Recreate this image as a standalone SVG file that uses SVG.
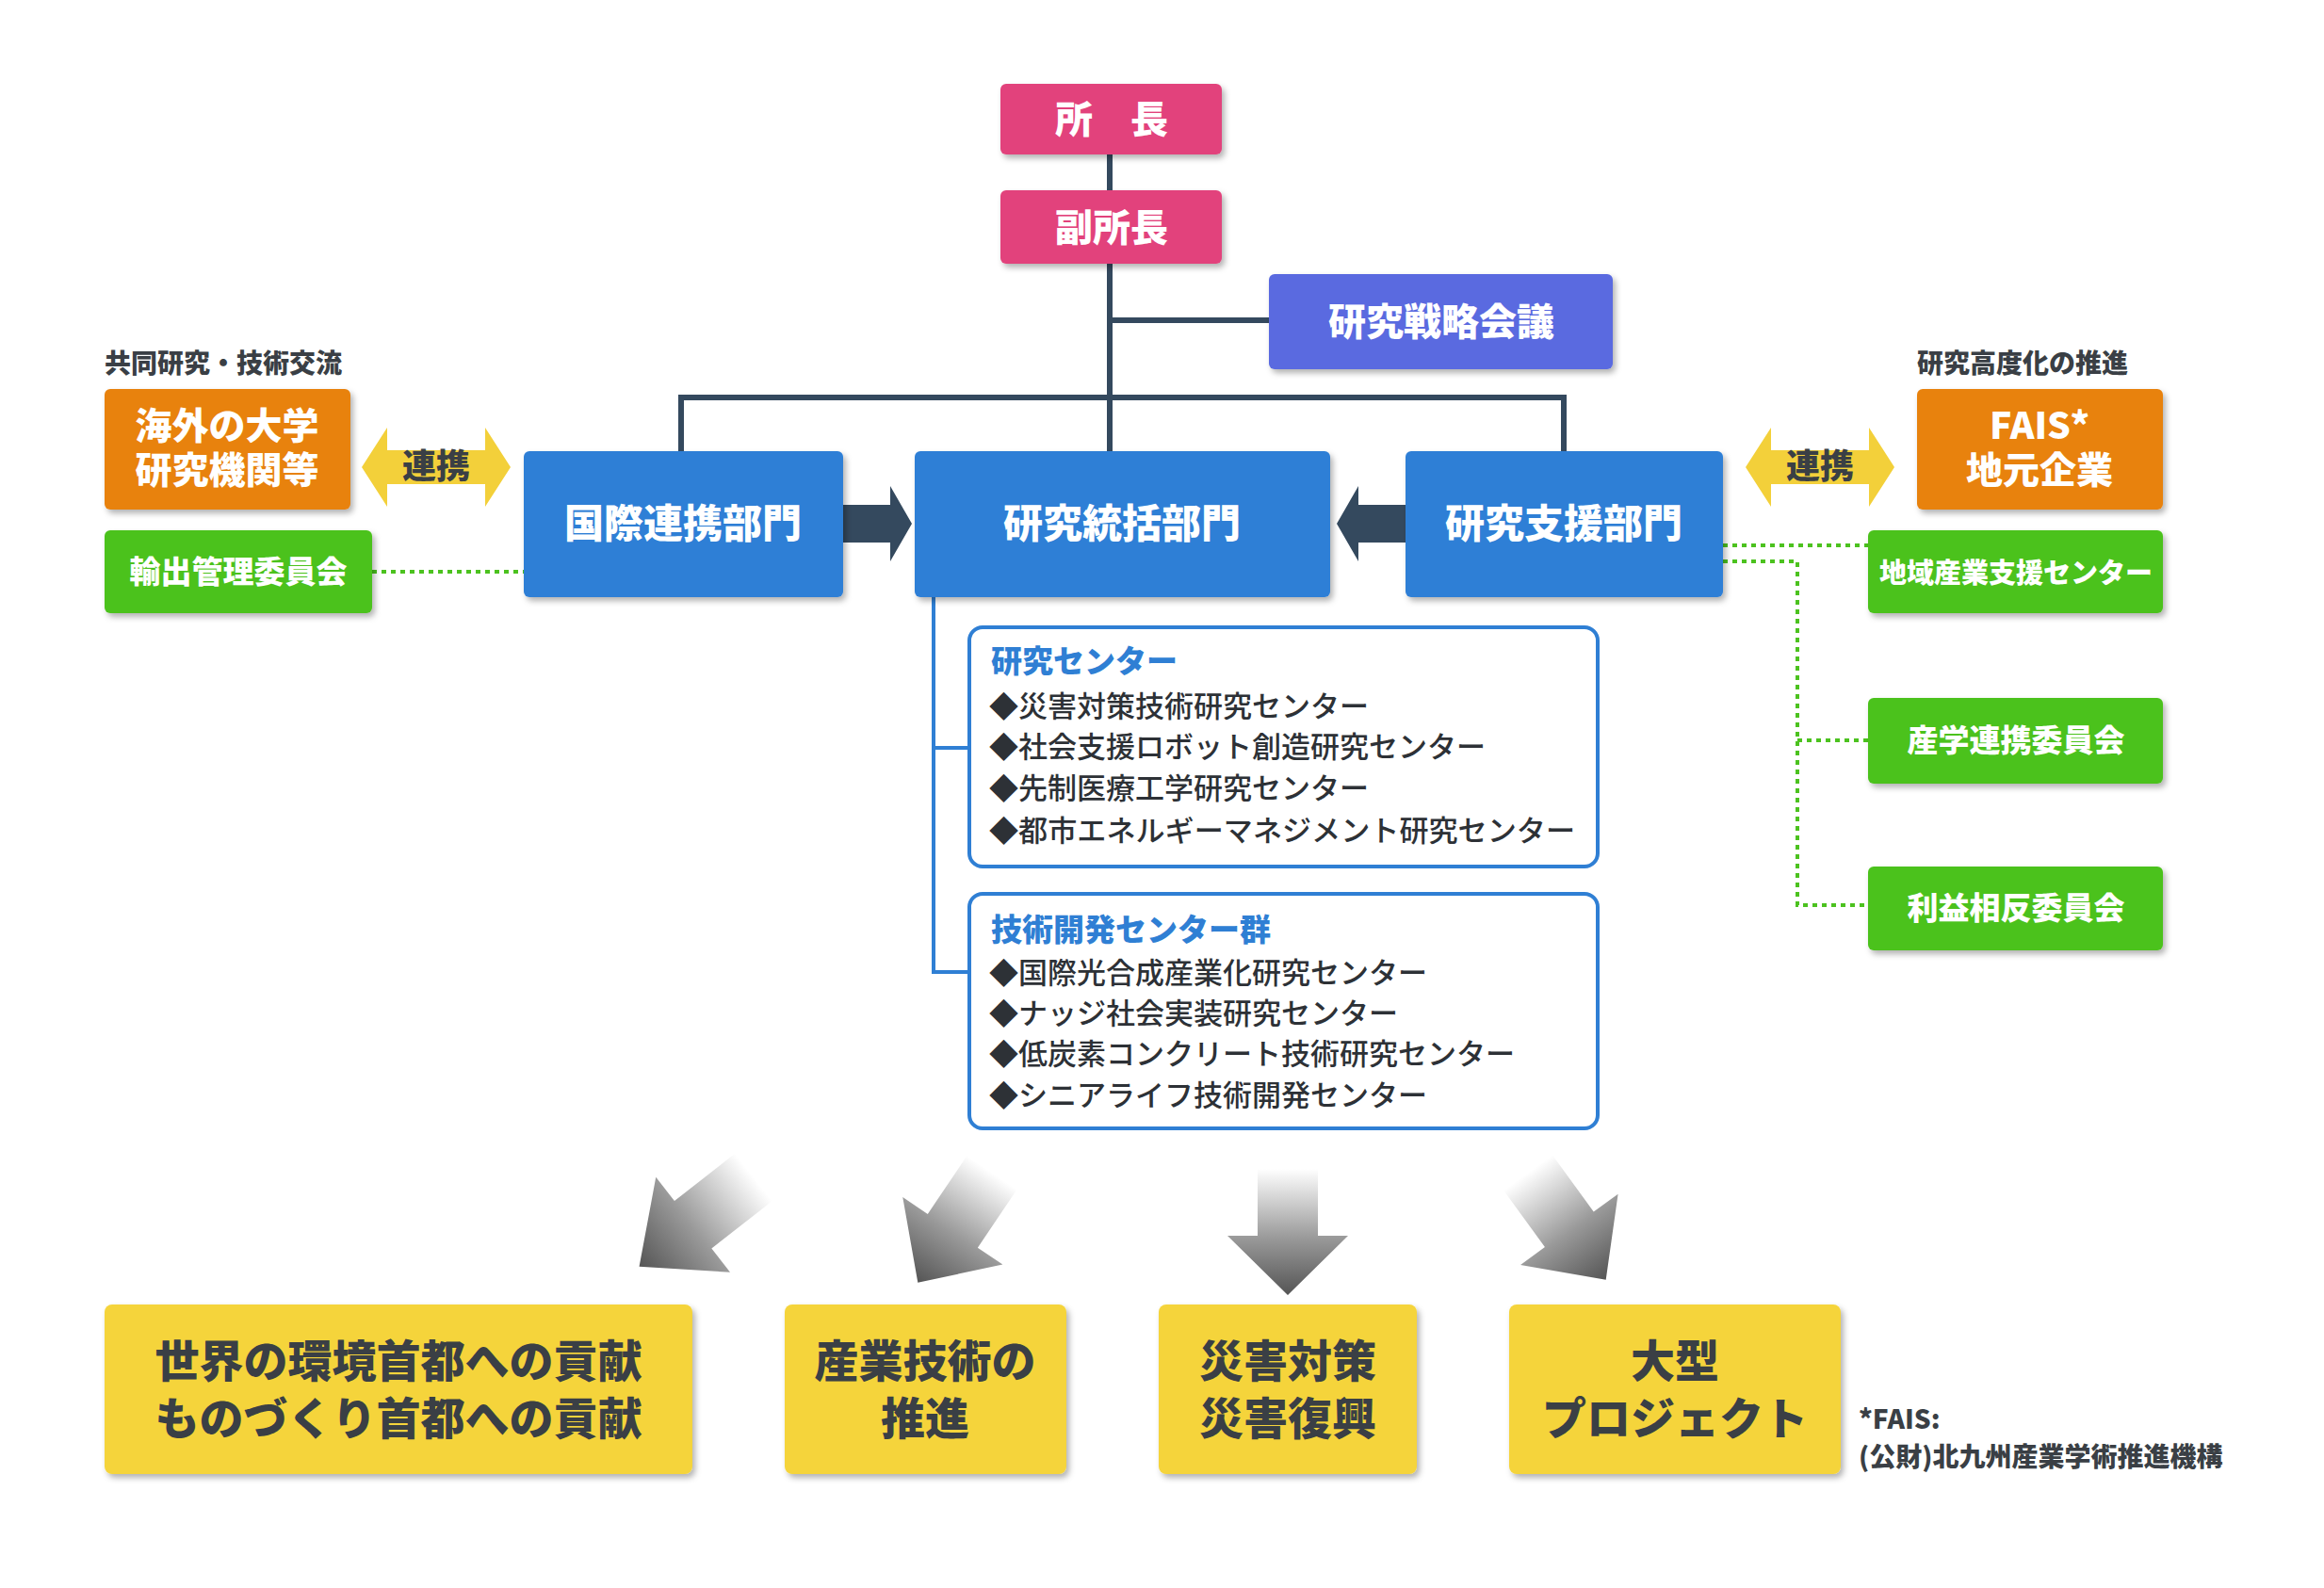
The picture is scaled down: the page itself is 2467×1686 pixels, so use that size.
<svg xmlns="http://www.w3.org/2000/svg" width="2467" height="1686" viewBox="0 0 2467 1686">
<style>
text{font-family:"Noto Sans CJK JP","Noto Sans CJK SC",sans-serif;font-weight:900}
.w{fill:#fff;text-anchor:middle}
.d{fill:#3a3f45;text-anchor:middle}
.it{fill:#2d3136;font-size:31px;font-weight:500}
.tt{fill:#2f7fd4;font-size:33px}
.sm{fill:#3a3f45;font-size:28px}
.ln{stroke:#34495e;stroke-width:6;fill:none}
.bl{stroke:#2f7fd4;stroke-width:4;fill:none}
.gd{stroke:#4cc21f;stroke-width:4;stroke-dasharray:5 5;fill:none}
</style>
<defs>
<filter id="sh" x="-10%" y="-10%" width="125%" height="130%"><feDropShadow dx="3" dy="4" stdDeviation="3" flood-color="#000" flood-opacity="0.3"/></filter>
<linearGradient id="ag" x1="0" y1="0" x2="0" y2="1"><stop offset="0" stop-color="#fff"/><stop offset="0.55" stop-color="#999"/><stop offset="1" stop-color="#555"/></linearGradient>
<path id="ga" d="M-32,0 H32 V71 H64 L0,134 L-64,71 H-32 Z" fill="url(#ag)"/>
<path id="ya" d="M-79,0 L-52,-42 V-18 H52 V-42 L79,0 L52,42 V18 H-52 V42 Z" fill="#f3d03a"/>
</defs>
<rect width="2467" height="1686" fill="#fff"/>
<g id="connectors">
<path class="ln" d="M1178,164 V479 M1178,340 H1347 M723,479 V422 H1660 V479"/>
<path d="M895,536 H945 V516 L968,556 L945,596 V576 H895 Z" fill="#34495e"/>
<path d="M1492,536 H1442 V516 L1419,556 L1442,596 V576 H1492 Z" fill="#34495e"/>
<path class="gd" d="M395,607 H556 M1829,579 H1983 M1829,596 H1908 V961 H1983 M1908,786 H1983"/>
<path class="bl" d="M991,634 V1032 H1029 M991,794 H1029"/>
<use href="#ya" x="463" y="496"/>
<use href="#ya" x="1932" y="496"/>
<use href="#ga" transform="translate(800,1250) rotate(52) scale(1,1.15)"/>
<use href="#ga" transform="translate(1053,1245) rotate(34) scale(1,1.05)"/>
<use href="#ga" transform="translate(1367,1241)"/>
<use href="#ga" transform="translate(1622,1245) rotate(-36) scale(1,1.05)"/>
</g>
<text x="463" y="508" class="d" font-size="36">連携</text>
<text x="1932" y="508" class="d" font-size="36">連携</text>
<g id="shocho"><rect x="1062" y="89" width="235" height="75" rx="6" fill="#e2437b" filter="url(#sh)"/><text x="1180" y="141" class="w" font-size="40">所　長</text></g>
<g id="fukushocho"><rect x="1062" y="202" width="235" height="78" rx="6" fill="#e2437b" filter="url(#sh)"/><text x="1180" y="256" class="w" font-size="40">副所長</text></g>
<g id="senryaku"><rect x="1347" y="291" width="365" height="101" rx="6" fill="#5a6be0" filter="url(#sh)"/><text x="1530" y="356" class="w" font-size="40">研究戦略会議</text></g>
<g id="kokusai"><rect x="556" y="479" width="339" height="155" rx="6" fill="#2e7fd6" filter="url(#sh)"/><text x="725" y="571" class="w" font-size="42">国際連携部門</text></g>
<g id="tokatsu"><rect x="971" y="479" width="441" height="155" rx="6" fill="#2e7fd6" filter="url(#sh)"/><text x="1191" y="571" class="w" font-size="42">研究統括部門</text></g>
<g id="shien"><rect x="1492" y="479" width="337" height="155" rx="6" fill="#2e7fd6" filter="url(#sh)"/><text x="1660" y="571" class="w" font-size="42">研究支援部門</text></g>
<g id="kaigai"><text x="111" y="396" class="sm">共同研究・技術交流</text><rect x="111" y="413" width="261" height="128" rx="6" fill="#e8820e" filter="url(#sh)"/><text x="241" y="466" class="w" font-size="39">海外の大学</text><text x="241" y="513" class="w" font-size="39">研究機関等</text></g>
<g id="yushutsu"><rect x="111" y="563" width="284" height="88" rx="6" fill="#4cc21f" filter="url(#sh)"/><text x="253" y="619" class="w" font-size="33">輸出管理委員会</text></g>
<g id="fais"><text x="2035" y="396" class="sm">研究高度化の推進</text><rect x="2035" y="413" width="261" height="128" rx="6" fill="#e8820e" filter="url(#sh)"/><text x="2165" y="466" class="w" font-size="39">FAIS*</text><text x="2165" y="513" class="w" font-size="39">地元企業</text></g>
<g id="chiiki"><rect x="1983" y="563" width="313" height="88" rx="6" fill="#4cc21f" filter="url(#sh)"/><text x="2140" y="619" class="w" font-size="29">地域産業支援センター</text></g>
<g id="sangaku"><rect x="1983" y="741" width="313" height="91" rx="6" fill="#4cc21f" filter="url(#sh)"/><text x="2140" y="798" class="w" font-size="33">産学連携委員会</text></g>
<g id="rieki"><rect x="1983" y="920" width="313" height="89" rx="6" fill="#4cc21f" filter="url(#sh)"/><text x="2140" y="976" class="w" font-size="33">利益相反委員会</text></g>
<g id="kenkyu-center"><rect x="1029" y="666" width="667" height="254" rx="14" fill="#fff" stroke="#2f7fd4" stroke-width="4"/>
<text x="1052" y="714" class="tt">研究センター</text>
<text x="1050" y="761" class="it">◆災害対策技術研究センター</text>
<text x="1050" y="804" class="it">◆社会支援ロボット創造研究センター</text>
<text x="1050" y="848" class="it">◆先制医療工学研究センター</text>
<text x="1050" y="893" class="it" textLength="622" lengthAdjust="spacingAndGlyphs">◆都市エネルギーマネジメント研究センター</text></g>
<g id="gijutsu-center"><rect x="1029" y="949" width="667" height="249" rx="14" fill="#fff" stroke="#2f7fd4" stroke-width="4"/>
<text x="1052" y="999" class="tt">技術開発センター群</text>
<text x="1050" y="1044" class="it">◆国際光合成産業化研究センター</text>
<text x="1050" y="1087" class="it">◆ナッジ社会実装研究センター</text>
<text x="1050" y="1130" class="it">◆低炭素コンクリート技術研究センター</text>
<text x="1050" y="1174" class="it">◆シニアライフ技術開発センター</text></g>
<g id="kankyo"><rect x="111" y="1385" width="624" height="180" rx="8" fill="#f5d43a" filter="url(#sh)"/><text x="423" y="1462" class="d" font-size="47">世界の環境首都への貢献</text><text x="423" y="1523" class="d" font-size="47">ものづくり首都への貢献</text></g>
<g id="sangyo"><rect x="833" y="1385" width="299" height="180" rx="8" fill="#f5d43a" filter="url(#sh)"/><text x="982" y="1462" class="d" font-size="47">産業技術の</text><text x="982" y="1523" class="d" font-size="47">推進</text></g>
<g id="saigai"><rect x="1230" y="1385" width="274" height="180" rx="8" fill="#f5d43a" filter="url(#sh)"/><text x="1367" y="1462" class="d" font-size="47">災害対策</text><text x="1367" y="1523" class="d" font-size="47">災害復興</text></g>
<g id="ogata"><rect x="1602" y="1385" width="352" height="180" rx="8" fill="#f5d43a" filter="url(#sh)"/><text x="1778" y="1462" class="d" font-size="47">大型</text><text x="1778" y="1523" class="d" font-size="47">プロジェクト</text></g>
<text x="1973" y="1517" class="sm" font-weight="500">*FAIS:</text>
<text x="1973" y="1557" class="sm" font-weight="500">(公財)北九州産業学術推進機構</text>
</svg>
